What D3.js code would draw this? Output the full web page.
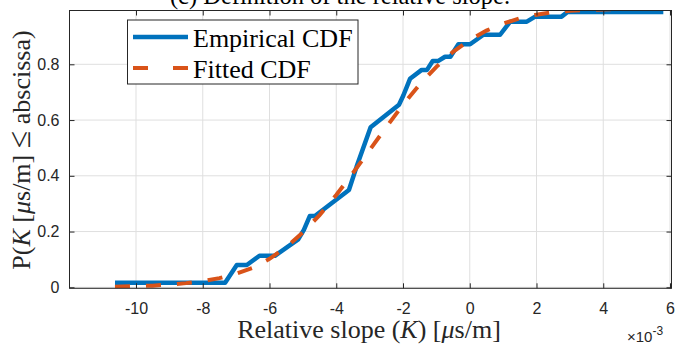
<!DOCTYPE html>
<html>
<head>
<meta charset="utf-8">
<script src="https://cdn.jsdelivr.net/npm/d3@7"></script>
<style>
  html, body { margin: 0; padding: 0; background: #fff; }
  svg { display: block; }
</style>
</head>
<body>
<svg id="chart" width="689" height="347"></svg>
<script>
// ---- data (x in units of 1e-3 μs/m) ----
const empiricalX = [-10.63, -7.33, -6.98, -6.68, -6.30, -5.84, -5.14, -4.97, -4.79, -4.64, -3.62, -3.39, -2.97, -2.12, -1.99, -1.79, -1.44, -1.28, -1.11, -0.94, -0.74, -0.58, -0.34, 0.01, 0.41, 0.91, 1.21, 1.71, 1.96, 2.75, 2.93, 5.80];
const empiricalY = [0.0165, 0.0165, 0.080, 0.080, 0.113, 0.113, 0.172, 0.206, 0.256, 0.256, 0.349, 0.433, 0.574, 0.655, 0.688, 0.748, 0.780, 0.780, 0.812, 0.812, 0.827, 0.827, 0.872, 0.872, 0.906, 0.906, 0.953, 0.953, 0.971, 0.971, 0.988, 0.988];
const fittedX = [-10.63, -10.0, -9.5, -9.0, -8.5, -8.0, -7.5, -7.0, -6.5, -6.0, -5.5, -5.0, -4.5, -4.0, -3.5, -3.0, -2.5, -2.0, -1.5, -1.0, -0.5, 0.0, 0.5, 1.0, 1.5, 2.0, 2.5, 3.0, 3.5, 4.0, 4.5, 5.0, 5.8];
const fittedY = [0.002, 0.004, 0.006, 0.010, 0.015, 0.022, 0.033, 0.049, 0.070, 0.102, 0.144, 0.197, 0.259, 0.331, 0.410, 0.492, 0.575, 0.655, 0.728, 0.791, 0.845, 0.887, 0.921, 0.946, 0.965, 0.978, 0.987, 0.992, 0.995, 0.997, 0.999, 0.9995, 1.0];
const xTicks = [-10, -8, -6, -4, -2, 0, 2, 4, 6];
const yTicks = [0, 0.2, 0.4, 0.6, 0.8];
const legendLabels = ["Empirical CDF", "Fitted CDF"];
const seriesColors = ["#0072BD", "#D95319"];
const titleText = "(c) Definition of the relative slope.";

// ---- layout ----
const svg = d3.select("#chart");
const pL = 69.5, pR = 671.5, pT = 10.5, pB = 288.3;
const x = d3.scaleLinear().domain([-10, 6]).range([136, 670]);
const y = d3.scaleLinear().domain([0, 0.8]).range([287.3, 64.3]);
const axisColor = "#262626";

svg.append("defs").append("clipPath").attr("id", "clip")
  .append("rect").attr("x", pL).attr("y", pT).attr("width", pR - pL).attr("height", pB - pT);

// grid
const grid = svg.append("g");
grid.selectAll("line.gx").data(xTicks).join("line")
  .attr("x1", d => x(d)).attr("x2", d => x(d)).attr("y1", pT).attr("y2", pB)
  .attr("stroke", "#dfdfdf").attr("stroke-width", 1);
grid.selectAll("line.gy").data(yTicks).join("line")
  .attr("x1", pL).attr("x2", pR).attr("y1", d => y(d)).attr("y2", d => y(d))
  .attr("stroke", "#dfdfdf").attr("stroke-width", 1);

// series
const plot = svg.append("g").attr("clip-path", "url(#clip)");
const line = d3.line().x(d => x(d[0])).y(d => y(d[1]));
const emp = empiricalX.map((v, i) => [v, empiricalY[i]]);
const fit = fittedX.map((v, i) => [v, fittedY[i]]);
plot.append("path").datum(emp).attr("d", line)
  .attr("fill", "none").attr("stroke", seriesColors[0]).attr("stroke-width", 4.5)
  .attr("stroke-linejoin", "round");
plot.append("path").datum(fit).attr("d", line)
  .attr("fill", "none").attr("stroke", seriesColors[1]).attr("stroke-width", 4)
  .attr("stroke-dasharray", "15,16");

// axes (box with inward ticks)
const tickLen = 5;
const axBottom = d3.axisBottom(x).tickValues(xTicks).tickSize(-tickLen).tickPadding(14).tickFormat(d => String(d));
const axTop = d3.axisTop(x).tickValues(xTicks).tickSize(-tickLen).tickFormat("");
const axLeft = d3.axisLeft(y).tickValues(yTicks).tickSize(-tickLen).tickPadding(10).tickFormat(d => d === 0 ? "0" : d.toFixed(1));
const axRight = d3.axisRight(y).tickValues(yTicks).tickSize(-tickLen).tickFormat("");

function style(g) {
  g.select(".domain").remove();
  g.selectAll(".tick line").attr("stroke", axisColor);
  g.selectAll(".tick text").attr("fill", axisColor).attr("font-family", "Liberation Sans, Arial, sans-serif").attr("font-size", "16px");
}
svg.append("g").attr("transform", `translate(0,${pB})`).call(axBottom).call(style);
svg.append("g").attr("transform", `translate(0,${pT})`).call(axTop).call(style);
svg.append("g").attr("transform", `translate(${pL},0)`).call(axLeft).call(style);
svg.append("g").attr("transform", `translate(${pR},0)`).call(axRight).call(style);
svg.append("rect").attr("x", pL).attr("y", pT).attr("width", pR - pL).attr("height", pB - pT)
  .attr("fill", "none").attr("stroke", axisColor).attr("stroke-width", 1);

// exponent label
const ex = svg.append("text").attr("x", 627).attr("y", 342)
  .attr("font-family", "Liberation Sans, Arial, sans-serif").attr("font-size", "15px").attr("fill", axisColor);
ex.append("tspan").text("×10");
ex.append("tspan").attr("dy", -7).attr("font-size", "12px").text("-3");

// labels
const serif = "Liberation Serif, Times New Roman, serif";
const xl = svg.append("text").attr("x", 369).attr("y", 338).attr("text-anchor", "middle")
  .attr("font-family", serif).attr("font-size", "26px").attr("fill", axisColor);
xl.append("tspan").text("Relative slope (");
xl.append("tspan").attr("font-style", "italic").text("K");
xl.append("tspan").text(") [");
xl.append("tspan").attr("font-style", "italic").text("μ");
xl.append("tspan").text("s/m]");

const yl = svg.append("text").attr("transform", "translate(29.5,150) rotate(-90)").attr("text-anchor", "middle")
  .attr("font-family", serif).attr("font-size", "26px").attr("fill", axisColor);
yl.append("tspan").text("P(");
yl.append("tspan").attr("font-style", "italic").text("K");
yl.append("tspan").text(" [");
yl.append("tspan").attr("font-style", "italic").text("μ");
yl.append("tspan").text("s/m] ");
yl.append("tspan").attr("font-size", "32px").text("≤");
yl.append("tspan").text(" abscissa)");

svg.append("text").attr("x", 340).attr("y", 4).attr("text-anchor", "middle")
  .attr("font-family", serif).attr("font-size", "24.5px").attr("fill", "#000").text(titleText);

// legend
const lg = svg.append("g");
lg.append("rect").attr("x", 127.5).attr("y", 20).attr("width", 230.5).attr("height", 64)
  .attr("fill", "#fff").attr("stroke", axisColor).attr("stroke-width", 1);
const ly = [37, 68];
legendLabels.forEach((lab, i) => {
  lg.append("line").attr("x1", 133).attr("x2", 188).attr("y1", ly[i]).attr("y2", ly[i])
    .attr("stroke", seriesColors[i]).attr("stroke-width", i === 0 ? 4.5 : 4)
    .attr("stroke-dasharray", i === 0 ? null : "15,25");
  lg.append("text").attr("x", 193).attr("y", ly[i] + 9.5)
    .attr("font-family", serif).attr("font-size", "26px").attr("fill", "#000").text(lab);
});
</script>
</body>
</html>
